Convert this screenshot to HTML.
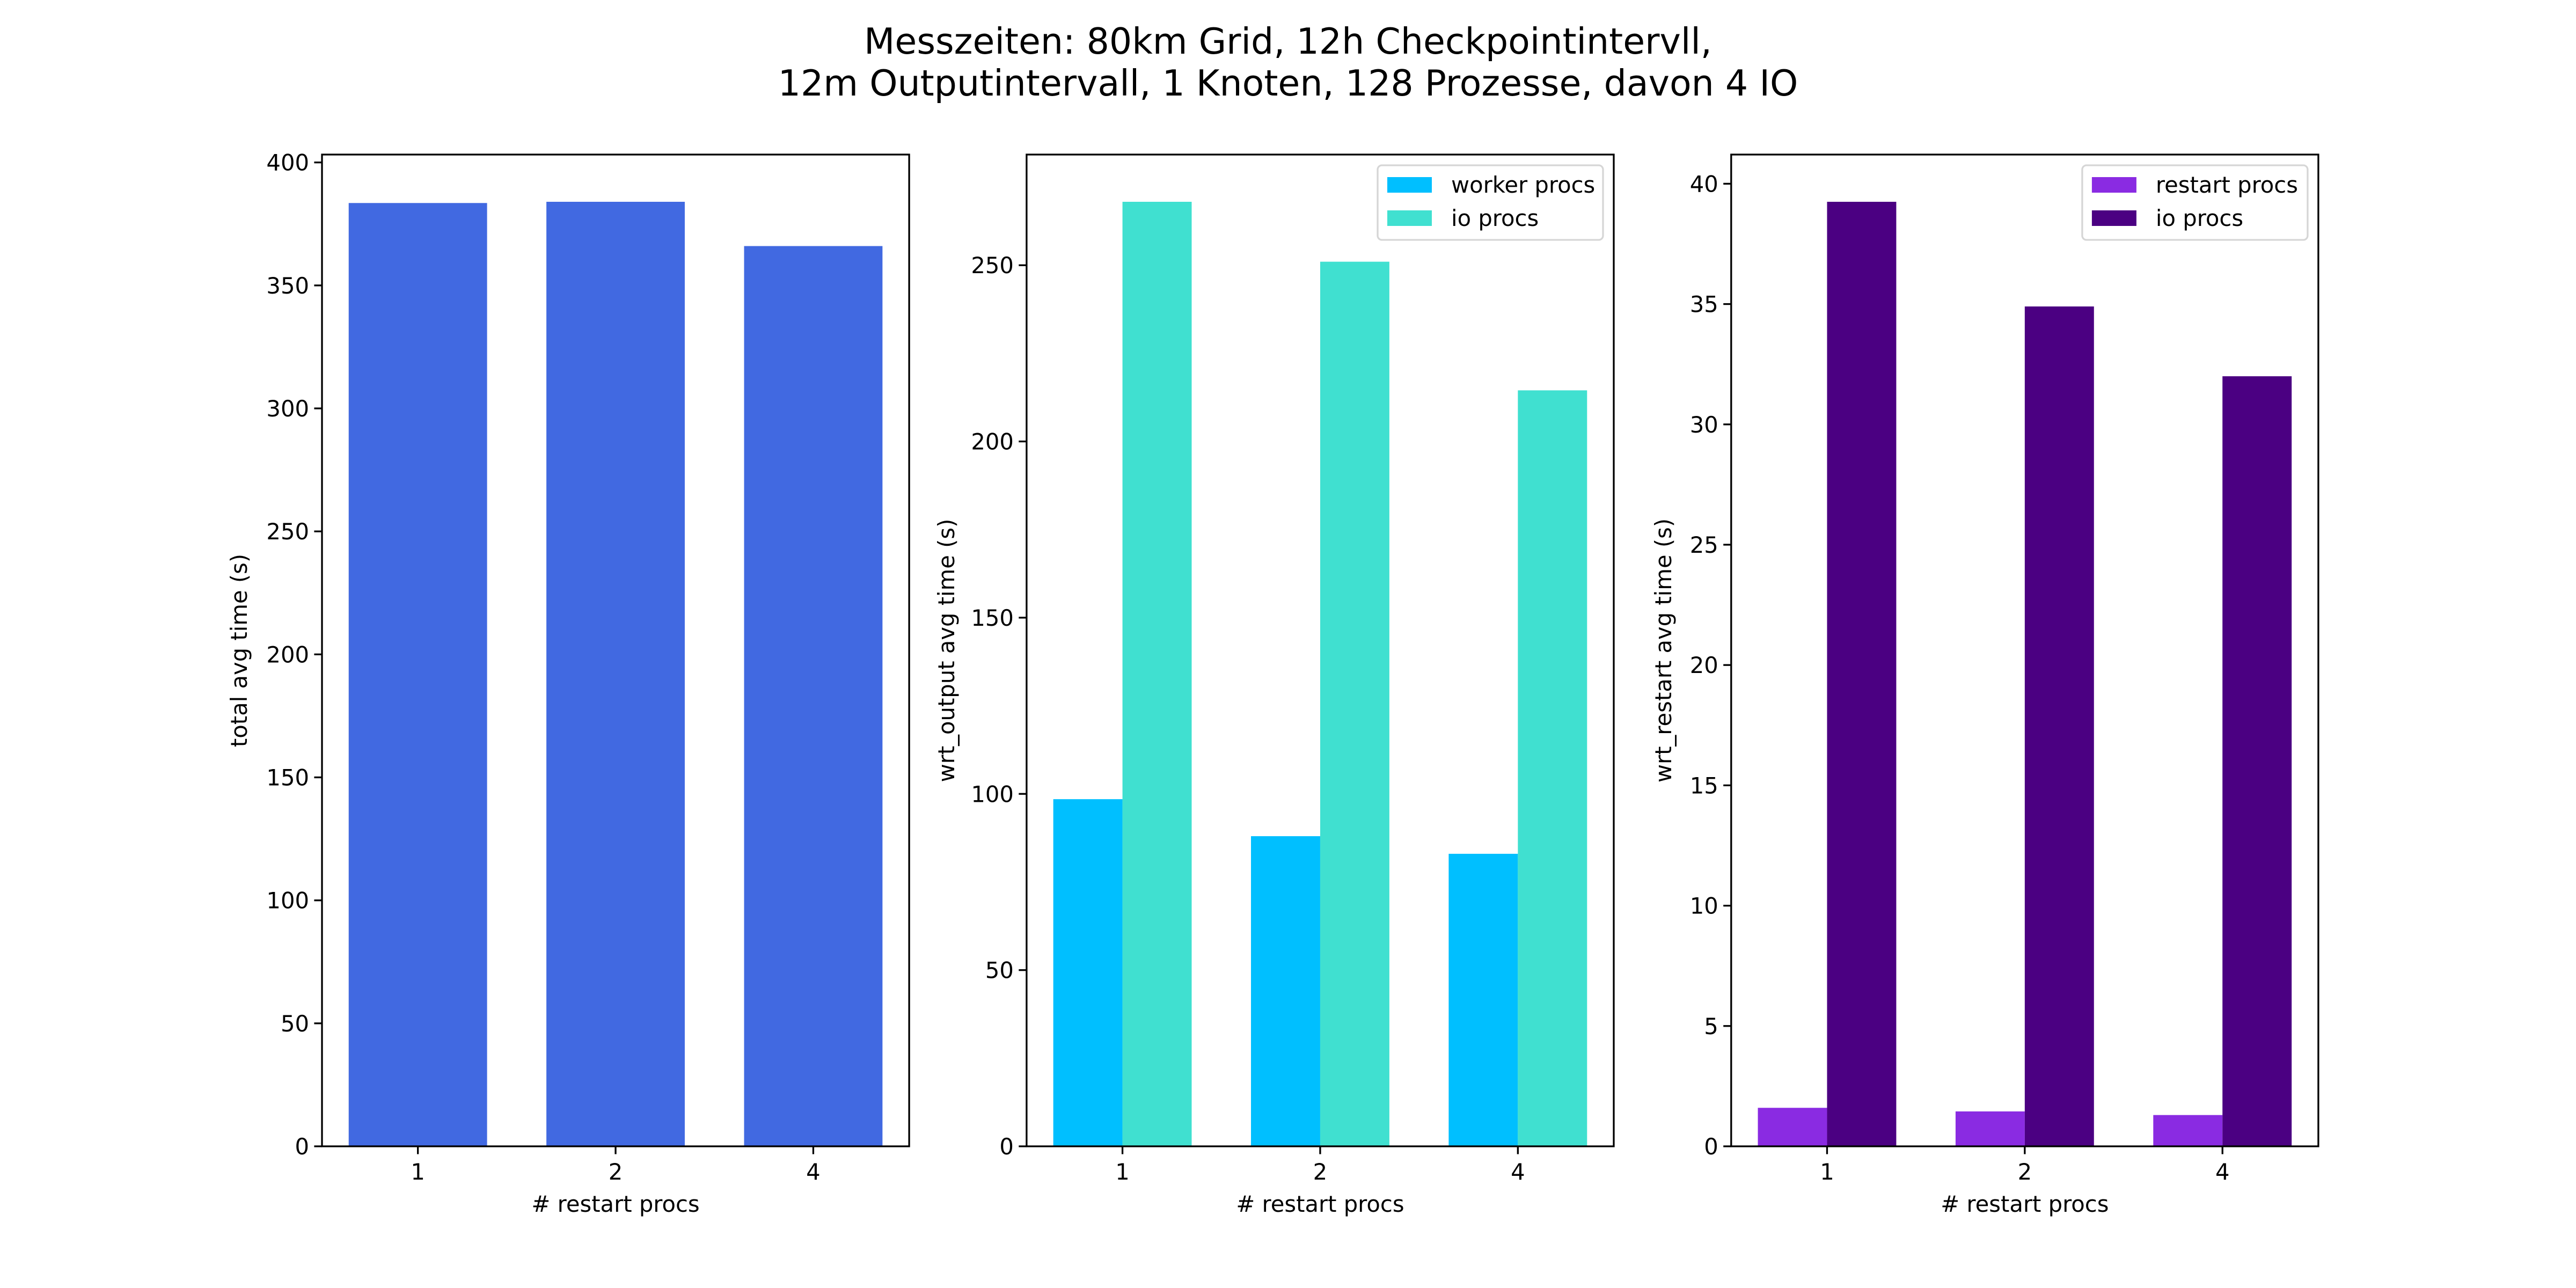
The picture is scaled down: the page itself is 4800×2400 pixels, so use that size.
<!DOCTYPE html>
<html><head><meta charset="utf-8"><style>html,body{margin:0;padding:0;background:#fff}svg{display:block}text{font-family:"DejaVu Sans","Liberation Sans",sans-serif;fill:#000}</style></head>
<body>
<svg id="fig" width="4800" height="2400" viewBox="0 0 4800 2400" xmlns="http://www.w3.org/2000/svg">
<rect width="4800" height="2400" fill="#fff"/>
<text x="2400" y="100" font-size="66.5" text-anchor="middle">Messzeiten: 80km Grid, 12h Checkpointintervll,</text>
<text x="2400" y="178" font-size="66.5" text-anchor="middle">12m Outputintervall, 1 Knoten, 128 Prozesse, davon 4 IO</text>
</svg>
<script>
const categories = ["1", "2", "4"];
const totalTime = [383.5, 384, 366];
const outWorker = [98.5, 88, 83];
const outIo = [268, 251, 214.5];
const restartRestart = [1.6, 1.45, 1.3];
const restartIo = [39.25, 34.9, 32.0];
const ticks1 = [0, 50, 100, 150, 200, 250, 300, 350, 400];
const ticks2 = [0, 50, 100, 150, 200, 250];
const ticks3 = [0, 5, 10, 15, 20, 25, 30, 35, 40];

const NS = "http://www.w3.org/2000/svg";
const svg = document.getElementById("fig");
function mk(tag, attrs, parent) {
  const e = document.createElementNS(NS, tag);
  for (const k in attrs) e.setAttribute(k, attrs[k]);
  (parent || svg).appendChild(e);
  return e;
}
const TOP = 288, BOT = 2136, W = 1094.1, GAP = 218.8;
function panel(idx, name, series, ticks, ylabel, legend, ylOff) {
  const x0 = 600 + idx * (W + GAP), x1 = x0 + W;
  const g = mk("g", {});
  
  
  let ymax = 0;
  series.forEach(s => s.vals.forEach(v => { ymax = Math.max(ymax, v); }));
  ymax *= 1.05;
  const xmin = -0.485, xmax = 2.485;
  const sx = v => x0 + (v - xmin) / (xmax - xmin) * W;
  const sy = v => BOT - v / ymax * (BOT - TOP);
  series.forEach((s, si) => {
    s.vals.forEach((v, i) => {
      const c = i + s.off;
      const r = mk("rect", {x: sx(c - s.w / 2), y: sy(v), width: sx(c + s.w / 2) - sx(c - s.w / 2), height: sy(0) - sy(v), fill: s.color}, g);
      
      
    });
  });
  const fr = mk("rect", {x: x0, y: TOP, width: W, height: BOT - TOP, fill: "none", stroke: "#000", "stroke-width": 3.3}, g);
  
  
  ticks.forEach(t => {
    const y = sy(t);
    mk("line", {x1: x0 - 14.6, x2: x0, y1: y, y2: y, stroke: "#000", "stroke-width": 3.3}, g);
    const tx = mk("text", {x: x0 - 24, y: y + 15, "font-size": 41.7, "text-anchor": "end"}, g);
    tx.textContent = t;
    
    
  });
  categories.forEach((c, i) => {
    const x = sx(i);
    mk("line", {x1: x, x2: x, y1: BOT, y2: BOT + 14.6, stroke: "#000", "stroke-width": 3.3}, g);
    const tx = mk("text", {x: x, y: BOT + 62, "font-size": 41.7, "text-anchor": "middle"}, g);
    tx.textContent = c;
    
    
  });
  const xl = mk("text", {x: (x0 + x1) / 2, y: BOT + 122, "font-size": 41.7, "text-anchor": "middle"}, g);
  xl.textContent = "# restart procs";
  
  
  const lx = x0 - ylOff;
  const yl = mk("text", {x: lx, y: (TOP + BOT) / 2, "font-size": 41.7, "text-anchor": "middle", transform: `rotate(-90 ${lx} ${(TOP + BOT) / 2})`}, g);
  yl.textContent = ylabel;
  
  
  if (legend) {
    const lg = mk("g", {}, g);
    
    
    const bw = legend.width, bx = x1 - 20 - bw, by = 308;
    mk("rect", {x: bx, y: by, width: bw, height: 139, rx: 8, fill: "#fff", stroke: "#d6d6d6", "stroke-width": 3.3}, lg);
    series.forEach((s, si) => {
      const yy = by + 22 + si * 62;
      mk("rect", {x: bx + 18, y: yy, width: 83, height: 29, fill: s.color}, lg);
      const t = mk("text", {x: bx + 137, y: yy + 29, "font-size": 41.7}, lg);
      t.textContent = s.label;
      
      
    });
  }
}
panel(0, "total-time-panel", [{key: "total", vals: totalTime, off: 0, w: 0.7, color: "#4169e1"}], ticks1, "total avg time (s)", null, 140);
panel(1, "wrt-output-panel", [
  {key: "worker", label: "worker procs", vals: outWorker, off: -0.175, w: 0.35, color: "#00bfff"},
  {key: "io", label: "io procs", vals: outIo, off: 0.175, w: 0.35, color: "#40e0d0"}], ticks2, "wrt_output avg time (s)", {width: 420}, 135);
panel(2, "wrt-restart-panel", [
  {key: "restart", label: "restart procs", vals: restartRestart, off: -0.175, w: 0.35, color: "#8a2be2"},
  {key: "io", label: "io procs", vals: restartIo, off: 0.175, w: 0.35, color: "#4b0082"}], ticks3, "wrt_restart avg time (s)", {width: 420}, 112);
</script>
</body></html>
